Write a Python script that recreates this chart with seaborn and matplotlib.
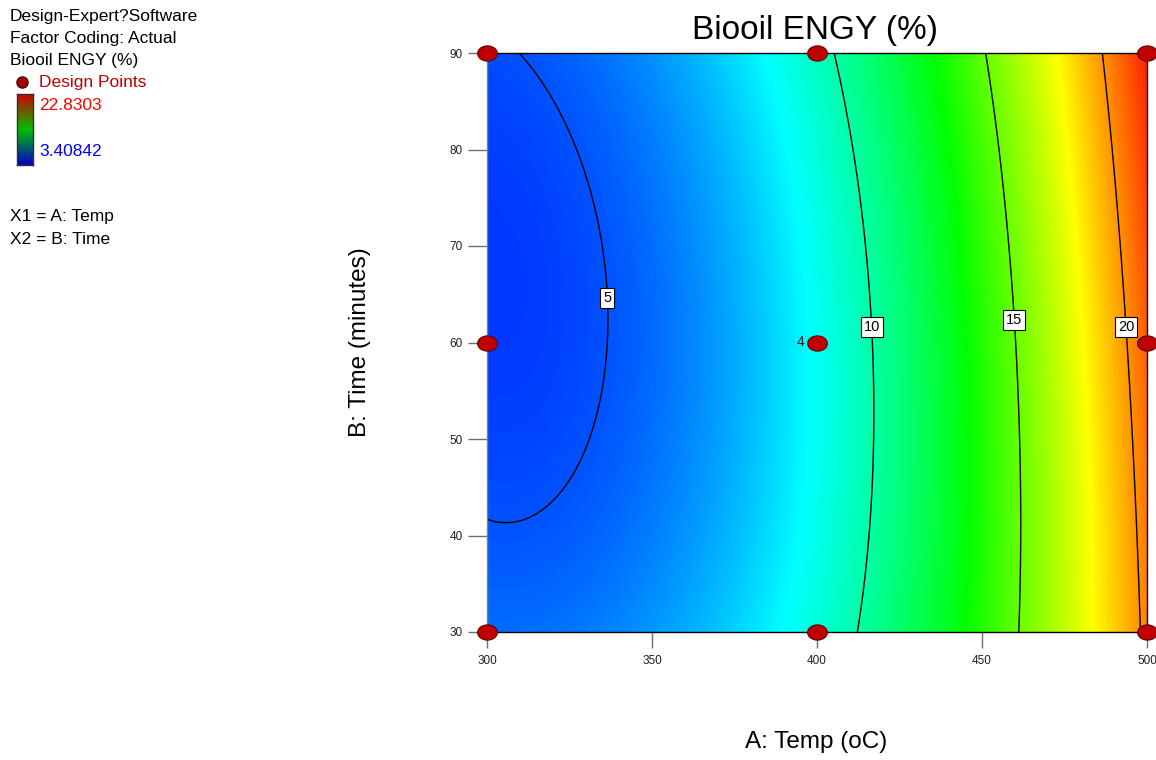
import numpy as np
import pandas as pd
import matplotlib
matplotlib.use("Agg")
import matplotlib.pyplot as plt
import seaborn as sns
from matplotlib.colors import LinearSegmentedColormap
from matplotlib.markers import MarkerStyle
from matplotlib.transforms import Affine2D

# ---------------- data ----------------
design_temp = [300, 400, 500, 300, 400, 500, 300, 400, 500]
design_time = [30, 30, 30, 60, 60, 60, 90, 90, 90]
design_resp = [5.55, 9.04, 20.30, 4.55, 8.50, 21.00, 4.90, 9.54, 22.18]
center_reps = "4"
contour_levels = [5, 10, 15, 20]
label_pos = [(336.4, 64.6), (416.7, 61.6), (460.0, 62.3), (494.0, 61.6)]
resp_min, resp_max = 3.40842, 22.8303
xticks = [300, 350, 400, 450, 500]
yticks = [30, 40, 50, 60, 70, 80, 90]
title = "Biooil ENGY (%)"
xlabel = "A: Temp (oC)"
ylabel = "B: Time (minutes)"
info_lines = ["Design-Expert?Software", "Factor Coding: Actual", "Biooil ENGY (%)"]
factor_lines = ["X1 = A: Temp", "X2 = B: Time"]

# ---------------- style ----------------
sns.set_theme(style="white")
plt.rcParams["font.family"] = ["Liberation Sans", "DejaVu Sans"]

df = pd.DataFrame({"temp": design_temp, "time": design_time, "resp": design_resp})

# response-surface model (quadratic x quadratic) fitted to the design points, coded units
def coded(t, m):
    return (np.asarray(t, float) - 400) / 100, (np.asarray(m, float) - 60) / 30

def design_matrix(a, b):
    return np.column_stack([np.ones_like(a), a, b, a * b, a ** 2, b ** 2,
                            a ** 2 * b, a * b ** 2, a ** 2 * b ** 2])

a_d, b_d = coded(df["temp"], df["time"])
coef, *_ = np.linalg.lstsq(design_matrix(a_d, b_d), df["resp"].to_numpy(), rcond=None)

tg = np.linspace(300, 500, 300)
mg = np.linspace(30, 90, 300)
TT, MM = np.meshgrid(tg, mg)
A, B = coded(TT.ravel(), MM.ravel())
Z = (design_matrix(A, B) @ coef).reshape(TT.shape)

cmap = LinearSegmentedColormap.from_list(
    "de", [(0, "#0000ff"), (0.25, "#00ffff"), (0.5, "#00ff00"), (0.75, "#ffff00"), (1, "#ff0000")])

fig = plt.figure(figsize=(11.56, 7.6), dpi=100)
ax = fig.add_axes([487 / 1156, 1 - 632 / 760, 660 / 1156, 579 / 760])

ax.contourf(TT, MM, Z, levels=np.linspace(resp_min, resp_max, 256), cmap=cmap,
            vmin=resp_min, vmax=resp_max, extend="both")
cs = ax.contour(TT, MM, Z, levels=contour_levels, colors="black", linewidths=1.0)
lbls = ax.clabel(cs, fmt="%d", manual=label_pos, inline=False, fontsize=10.5)
for t in lbls:
    t.set_color("black")
    t.set_rotation(0)
    t.set_zorder(7)
    t.set_bbox(dict(facecolor="white", edgecolor="black", linewidth=0.8,
                    boxstyle="square,pad=0.2"))

mk = MarkerStyle("o", transform=Affine2D().scale(1.3, 1.0))
sns.scatterplot(data=df, x="temp", y="time", ax=ax, marker=mk, s=120,
                color="#c00000", edgecolor="#600000", linewidth=0.8,
                clip_on=False, zorder=6, legend=False)
ax.annotate(center_reps, xy=(400, 60), xytext=(-9, 0), textcoords="offset points",
            ha="right", va="center", fontsize=10, color="#202020")

ax.set_xlim(300, 500)
ax.set_ylim(30, 90)
ax.set_xticks(xticks)
ax.set_yticks(yticks)
ax.tick_params(axis="x", direction="out", length=11.5, width=1, color="#707070",
               labelsize=8.5, pad=5, labelcolor="#202020", bottom=True)
ax.tick_params(axis="y", direction="out", length=13.5, width=1, color="#707070",
               labelsize=8.5, pad=4, labelcolor="#202020", left=True)
for side in ["top", "bottom", "right"]:
    ax.spines[side].set_color("black")
    ax.spines[side].set_linewidth(1)
ax.spines["left"].set_color("#808080")
ax.spines["left"].set_linewidth(1)

ax.set_xlabel("")
ax.set_ylabel("")
fig.text(815 / 1156, 1 - 31 / 760, title, ha="center", va="center", fontsize=24, color="black")
fig.text(816 / 1156, 1 - 742 / 760, xlabel, ha="center", va="center", fontsize=17.5, color="black")
fig.text(360 / 1156, 1 - 342 / 760, ylabel, ha="center", va="center", rotation=90,
         fontsize=17.5, color="black")

# left info panel
for i, line in enumerate(info_lines):
    fig.text(10 / 1156, 1 - (17 + 22 * i) / 760, line, ha="left", va="center",
             fontsize=12.5, color="black")
fig.text(39 / 1156, 1 - 83 / 760, "Design Points", ha="left", va="center",
         fontsize=12.5, color="#c00000")
fig.lines.append(plt.Line2D([22 / 1156], [1 - 82 / 760], transform=fig.transFigure,
                            marker="o", markersize=8, color="#a00000",
                            markeredgecolor="#500000", linestyle="none"))
fig.text(39 / 1156, 1 - 105 / 760, f"{resp_max:g}", ha="left", va="center",
         fontsize=12.5, color="#ff0000")
fig.text(39 / 1156, 1 - 151 / 760, f"{resp_min:g}", ha="left", va="center",
         fontsize=12.5, color="#0000ff")
cax = fig.add_axes([17 / 1156, 1 - 165 / 760, 16 / 1156, 71 / 760])
leg_cmap = LinearSegmentedColormap.from_list("leg", ["#0000c8", "#00c000", "#d00000"])
cax.imshow(np.linspace(0, 1, 100)[:, None], cmap=leg_cmap, aspect="auto", origin="lower")
cax.set_xticks([])
cax.set_yticks([])
for s in cax.spines.values():
    s.set_color("#303030")
    s.set_linewidth(1)
for i, line in enumerate(factor_lines):
    fig.text(10 / 1156, 1 - (217 + 23 * i) / 760, line, ha="left", va="center",
             fontsize=12.5, color="black")

fig.savefig("out.png", dpi=100)
